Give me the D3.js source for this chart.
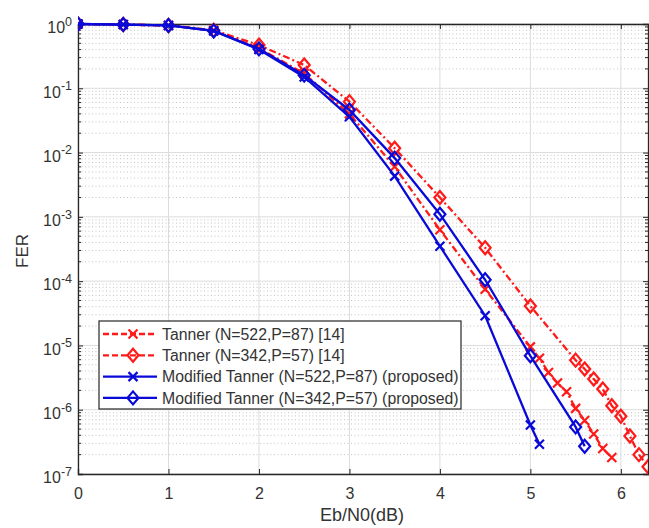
<!DOCTYPE html>
<html>
<head>
<meta charset="utf-8">
<script src="https://cdn.jsdelivr.net/npm/d3@7"></script>
<style>
  body { margin: 0; background: #fff; }
  svg { display: block; font-family: 'Liberation Sans', Arial, sans-serif; }
</style>
</head>
<body>
<svg id="chart" width="649" height="528"></svg>
<script>
// values
const ebnoTanner522 = [0, 0.5, 1, 1.5, 2, 2.5, 3, 3.5, 4, 4.5, 5, 5.1, 5.2, 5.3, 5.4, 5.5, 5.6, 5.7, 5.8, 5.9];
const ferTanner522 = [1, 0.98, 0.95, 0.8, 0.42, 0.17, 0.04, 0.006, 6.3e-4, 7.5e-5, 9.5e-6, 6.3e-6, 3.8e-6, 2.6e-6, 1.9e-6, 1.05e-6, 6.8e-7, 4.2e-7, 2.5e-7, 1.8e-7];

const ebnoTanner342 = [0, 0.5, 1, 1.5, 2, 2.5, 3, 3.5, 4, 4.5, 5, 5.5, 5.6, 5.7, 5.8, 5.9, 6.0, 6.1, 6.2, 6.3];
const ferTanner342 = [1, 0.98, 0.95, 0.8, 0.47, 0.23, 0.062, 0.0117, 0.002, 3.3e-4, 4.1e-5, 5.9e-6, 4.3e-6, 3.0e-6, 2.1e-6, 1.15e-6, 7.9e-7, 3.9e-7, 2.0e-7, 1.3e-7];

const ebnoModified522 = [0, 0.5, 1, 1.5, 2, 2.5, 3, 3.5, 4, 4.5, 5, 5.1];
const ferModified522 = [1, 0.98, 0.95, 0.78, 0.4, 0.15, 0.036, 0.0043, 3.5e-4, 2.9e-5, 5.8e-7, 2.9e-7];

const ebnoModified342 = [0, 0.5, 1, 1.5, 2, 2.5, 3, 3.5, 4, 4.5, 5, 5.5, 5.6];
const ferModified342 = [1, 0.98, 0.95, 0.78, 0.41, 0.16, 0.046, 0.0082, 0.0011, 1.05e-4, 6.9e-6, 5.4e-7, 2.7e-7];

const xTicks = [0, 1, 2, 3, 4, 5, 6];
const yExponents = [0, -1, -2, -3, -4, -5, -6, -7];

const series = [
  { name: 'Tanner (N=522,P=87) [14]', x: ebnoTanner522, y: ferTanner522, color: '#ff1a1a', dash: '7,3,2,3', marker: 'x' },
  { name: 'Tanner (N=342,P=57) [14]', x: ebnoTanner342, y: ferTanner342, color: '#ff1a1a', dash: '7,3,2,3', marker: 'd' },
  { name: 'Modified Tanner (N=522,P=87) (proposed)', x: ebnoModified522, y: ferModified522, color: '#0a0ad8', dash: null, marker: 'x' },
  { name: 'Modified Tanner (N=342,P=57) (proposed)', x: ebnoModified342, y: ferModified342, color: '#0a0ad8', dash: null, marker: 'd' },
];

const plotLeft = 78, plotRight = 648, plotTop = 24, plotBottom = 474;
const svg = d3.select('#chart');

const x = d3.scaleLinear().domain([0, 6.3]).range([plotLeft, plotRight]);
const y = d3.scaleLog().domain([1e-7, 1]).range([plotBottom, plotTop]);

svg.append('defs').append('clipPath').attr('id', 'plot-clip')
  .append('rect')
  .attr('x', plotLeft).attr('y', plotTop - 8)
  .attr('width', plotRight - plotLeft).attr('height', plotBottom - plotTop + 8);

// grid
const grid = svg.append('g');
const minorVals = [];
for (let e = -7; e < 0; e++) {
  for (let m = 2; m <= 9; m++) minorVals.push(m * Math.pow(10, e));
}
grid.selectAll('.minor')
  .data(minorVals)
  .join('line')
  .attr('x1', plotLeft).attr('x2', plotRight)
  .attr('y1', (d) => y(d)).attr('y2', (d) => y(d))
  .attr('stroke', '#c4c4c4')
  .attr('stroke-width', 1)
  .attr('stroke-dasharray', '1,2.5');

grid.selectAll('.majy')
  .data(yExponents.map((e) => Math.pow(10, e)))
  .join('line')
  .attr('x1', plotLeft).attr('x2', plotRight)
  .attr('y1', (d) => y(d)).attr('y2', (d) => y(d))
  .attr('stroke', '#dcdcdc');

grid.selectAll('.majx')
  .data(xTicks)
  .join('line')
  .attr('x1', (d) => x(d)).attr('x2', (d) => x(d))
  .attr('y1', plotTop).attr('y2', plotBottom)
  .attr('stroke', '#dcdcdc');

// axes
const axisColor = '#262626';
const yTickVals = yExponents.map((e) => Math.pow(10, e));

const xAxis = svg.append('g')
  .attr('transform', `translate(0,${plotBottom})`)
  .call(d3.axisBottom(x).tickValues(xTicks).tickSize(-5).tickPadding(14).tickFormat(d3.format('d')));

svg.append('g')
  .attr('transform', `translate(0,${plotTop})`)
  .call(d3.axisTop(x).tickValues(xTicks).tickSize(-5).tickFormat(''));

const yAxis = svg.append('g')
  .attr('transform', `translate(${plotLeft},0)`)
  .call(d3.axisLeft(y).tickValues(yTickVals).tickSize(-5).tickPadding(8).tickFormat(''));

svg.append('g')
  .attr('transform', `translate(${plotRight},0)`)
  .call(d3.axisRight(y).tickValues(yTickVals).tickSize(-5).tickFormat(''));

// minor y ticks on both sides
[plotLeft, plotRight].forEach((px) => {
  const dir = px === plotLeft ? 1 : -1;
  svg.append('g').selectAll('line')
    .data(minorVals)
    .join('line')
    .attr('x1', px).attr('x2', px + dir * 3)
    .attr('y1', (d) => y(d)).attr('y2', (d) => y(d))
    .attr('stroke', axisColor);
});

svg.selectAll('.domain').attr('stroke', axisColor).attr('stroke-width', 1.3);
svg.selectAll('.tick line').attr('stroke', axisColor);
xAxis.selectAll('text')
  .attr('fill', '#333')
  .style('font-size', '16px')
  .style('font-family', "'Liberation Sans', Arial, sans-serif");

// y tick labels as 10^e
yAxis.selectAll('.tick').each(function (d) {
  const e = Math.round(Math.log10(d));
  const t = d3.select(this).select('text')
    .attr('fill', '#333')
    .attr('x', -6)
    .attr('dy', '0.55em')
    .style('font-size', '16px')
    .style('font-family', "'Liberation Sans', Arial, sans-serif");
  t.append('tspan').text('10');
  t.append('tspan').attr('dy', '-0.6em').style('font-size', '12.5px').text(e);
});

// axis labels
svg.append('text')
  .attr('x', 362)
  .attr('y', 521)
  .attr('text-anchor', 'middle')
  .attr('fill', '#333')
  .style('font-size', '18px')
  .text('Eb/N0(dB)');

svg.append('text')
  .attr('transform', `translate(28,${(plotTop + plotBottom) / 2 + 2}) rotate(-90)`)
  .attr('text-anchor', 'middle')
  .attr('fill', '#333')
  .style('font-size', '17px')
  .text('FER');

// markers
function drawMarker(g, kind, color) {
  if (kind === 'x') {
    g.append('path')
      .attr('d', 'M-4.5,-4.5L4.5,4.5M-4.5,4.5L4.5,-4.5')
      .attr('stroke', color).attr('stroke-width', 2.2).attr('fill', 'none');
  } else {
    g.append('path')
      .attr('d', 'M0,-6.5L5.5,0L0,6.5L-5.5,0Z')
      .attr('stroke', color).attr('stroke-width', 2.2).attr('fill', 'none');
  }
}

// curves
const plot = svg.append('g').attr('clip-path', 'url(#plot-clip)');
const line = d3.line().x((d) => x(d[0])).y((d) => y(d[1]));

series.forEach((s) => {
  const pts = s.x.map((v, i) => [v, s.y[i]]);
  plot.append('path')
    .datum(pts)
    .attr('d', line)
    .attr('fill', 'none')
    .attr('stroke', s.color)
    .attr('stroke-width', 2.3)
    .attr('stroke-dasharray', s.dash);
  plot.append('g').selectAll('g')
    .data(pts)
    .join('g')
    .attr('transform', (d) => `translate(${x(d[0])},${y(d[1])})`)
    .each(function () { drawMarker(d3.select(this), s.marker, s.color); });
});

// legend
const legend = svg.append('g').attr('transform', 'translate(99,321)');
legend.append('rect')
  .attr('width', 362).attr('height', 88)
  .attr('fill', '#fff')
  .attr('stroke', axisColor)
  .attr('stroke-width', 1.2);

series.forEach((s, i) => {
  const row = legend.append('g').attr('transform', `translate(0,${13 + i * 21.3})`);
  row.append('line')
    .attr('x1', 4).attr('x2', 58)
    .attr('stroke', s.color).attr('stroke-width', 2.3)
    .attr('stroke-dasharray', s.dash ? '6,3' : null);
  drawMarker(row.append('g').attr('transform', 'translate(34,0)'), s.marker, s.color);
  row.append('text')
    .attr('x', 63).attr('dy', '0.36em')
    .attr('fill', '#333')
    .style('font-size', '15.8px')
    .text(s.name);
});
</script>
</body>
</html>
